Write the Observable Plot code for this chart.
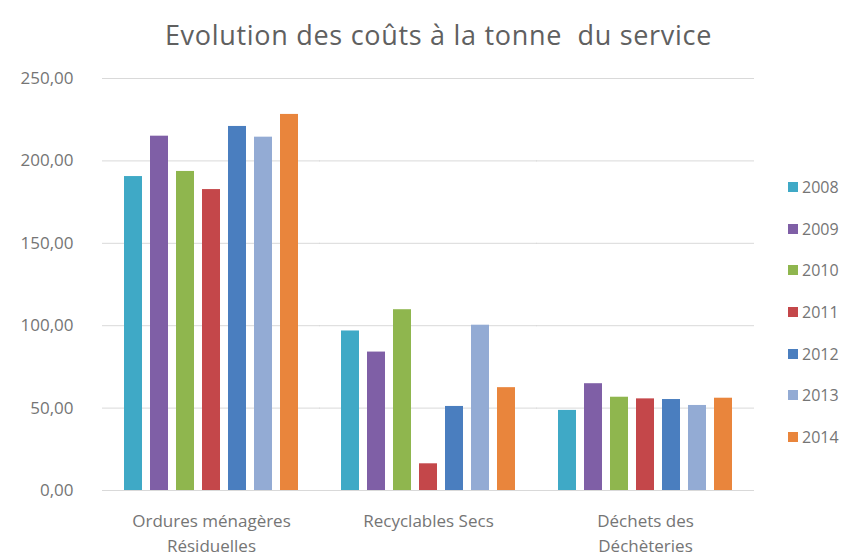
<!DOCTYPE html>
<html>
<head>
<meta charset="utf-8">
<script src="https://cdn.jsdelivr.net/npm/d3@7"></script>
<script src="https://cdn.jsdelivr.net/npm/@observablehq/plot@0.6"></script>
<style>
  html, body { margin: 0; padding: 0; background: #fff; }
  #wrap { position: relative; width: 859px; height: 557px; font-family: "Open Sans", sans-serif; overflow: hidden; }
  #title { height: 60px; line-height: 70px; text-align: center; font-size: 27px; letter-spacing: 0.7px; color: #606060; padding-left: 18px; box-sizing: border-box; white-space: pre; }
  #legend { position: absolute; left: 788px; top: 176px; }
  .item { display: flex; align-items: center; height: 22px; margin-bottom: 19.7px; font-size: 16px; color: #757575; }
  .sw { width: 10px; height: 10px; margin-right: 4px; }
</style>
</head>
<body>
<div id="wrap">
  <div id="title">Evolution des coûts à la tonne  du service</div>
  <div id="chart"></div>
  <div id="legend"></div>
</div>
<script>
const categories = ["Ordures ménagères Résiduelles", "Recyclables Secs", "Déchets des Déchèteries"];
const categoryLabels = ["Ordures ménagères\nRésiduelles", "Recyclables Secs", "Déchets des\nDéchèteries"];
const years = ["2008", "2009", "2010", "2011", "2012", "2013", "2014"];
const values2008 = [190.5, 96.8, 48.6];
const values2009 = [215.0, 84.0, 64.8];
const values2010 = [193.6, 109.7, 56.6];
const values2011 = [182.6, 16.2, 55.6];
const values2012 = [220.9, 51.0, 55.2];
const values2013 = [214.4, 100.3, 51.6];
const values2014 = [228.2, 62.4, 56.0];
const yTicks = [0, 50, 100, 150, 200, 250];
const colors = ["#3fa9c6", "#7f5fa6", "#8fb64e", "#c4474a", "#4a7ebf", "#93abd4", "#e9853c"];

const series = [values2008, values2009, values2010, values2011, values2012, values2013, values2014];
const data = [];
years.forEach((yr, i) => {
  categories.forEach((c, j) => data.push({cat: c, year: yr, value: series[i][j]}));
});
const labelOf = new Map(categories.map((c, i) => [c, categoryLabels[i]]));

const chart = Plot.plot({
  width: 859,
  height: 497,
  marginTop: 18,
  marginBottom: 67,
  marginLeft: 101,
  marginRight: 105,
  style: {fontFamily: "Open Sans, sans-serif", background: "transparent"},
  fx: {domain: categories, paddingInner: 0.19, paddingOuter: 0.095, label: null},
  x: {domain: years, paddingInner: 0.3, paddingOuter: 0, axis: null},
  y: {domain: [0, 250], label: null},
  color: {domain: years, range: colors},
  marks: [
    Plot.ruleY(yTicks, {stroke: "#d9d9d9", strokeWidth: 1, insetLeft: -21, insetRight: -21}),
    Plot.barY(data, {fx: "cat", x: "year", y: "value", fill: "year"}),
    Plot.axisY(yTicks, {tickSize: 0, tickPadding: 27, dx: -23, fontSize: 17, fill: "#757575", tickFormat: d => d.toFixed(2).replace(".", ","), label: null}),
    Plot.axisFx({anchor: "bottom", tickSize: 0, tickPadding: 19, fontSize: 17, fill: "#757575", lineHeight: 1.45, tickFormat: d => labelOf.get(d), label: null})
  ]
});
document.getElementById("chart").appendChild(chart);

const legend = document.getElementById("legend");
years.forEach((yr, i) => {
  const it = document.createElement("div");
  it.className = "item";
  const sw = document.createElement("span");
  sw.className = "sw";
  sw.style.background = colors[i];
  const t = document.createElement("span");
  t.textContent = yr;
  it.appendChild(sw);
  it.appendChild(t);
  legend.appendChild(it);
});
</script>
</body>
</html>
